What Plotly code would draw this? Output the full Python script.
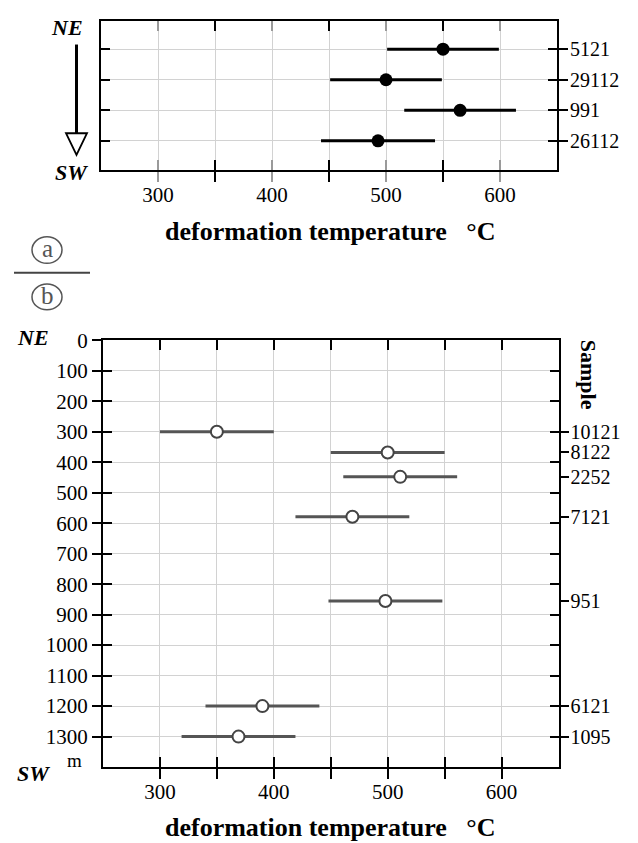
import plotly.graph_objects as go

W, H = 638, 843

# ---- data ----
samples_a = ["5121", "29112", "991", "26112"]
rows_a = [1, 2, 3, 4]
temp_a = [550, 500, 565, 493]
err_a = [49, 49, 49, 50]

samples_b = ["10121", "8122", "2252", "7121", "951", "6121", "1095"]
depth_b = [300, 368, 448, 579, 855, 1200, 1300]
temp_b = [350, 500, 511, 469, 498, 390, 369]
err_b = [50, 50, 50, 50, 50, 50, 50]

x_major = [300, 400, 500, 600]
x_major_text = ["300", "400", "500", "600"]
x_minor = [350, 450, 550]
depth_ticks = list(range(0, 1400, 100))

FONT = "Liberation Serif"
GRID = "#d2d2d2"

def px(x):
    return x / W

def py(y):
    return 1 - y / H

fig = go.Figure()

fig.add_trace(go.Scatter(
    x=temp_a, y=rows_a, xaxis="x", yaxis="y", mode="markers",
    marker=dict(size=13, color="black"),
    error_x=dict(type="data", array=err_a, thickness=3, width=0, color="black"),
    showlegend=False, hoverinfo="skip"))

fig.add_trace(go.Scatter(
    x=temp_b, y=depth_b, xaxis="x2", yaxis="y2", mode="markers",
    marker=dict(size=12, color="white", line=dict(color="#444444", width=2)),
    error_x=dict(type="data", array=err_b, thickness=3, width=0, color="#555555"),
    showlegend=False, hoverinfo="skip"))

# invisible traces so that overlay axes (extra tick sets) are drawn
for xa, ya in [("x3", "y3"), ("x4", "y4"), ("x2", "y5")]:
    fig.add_trace(go.Scatter(x=[None], y=[None], xaxis=xa, yaxis=ya, mode="markers",
                             showlegend=False, hoverinfo="skip"))

tickfont = dict(family=FONT, size=21, color="black")
rightfont = dict(family=FONT, size=20, color="black")
dom_a_x = [px(101), px(557)]
dom_a_y = [py(160), py(9.5)]
dom_b_x = [px(103), px(558.5)]
dom_b_y = [py(766), py(333)]

def xmain(domain, anchor, major_color):
    return dict(domain=domain, anchor=anchor, range=[250, 650], fixedrange=True,
                tickmode="array", tickvals=x_major, ticktext=x_major_text,
                ticks="outside", ticklen=10, tickwidth=1.5, tickcolor=major_color,
                minor=dict(tickmode="array", tickvals=x_minor, ticks="outside", ticklen=10,
                           tickwidth=1.5, tickcolor="black", showgrid=True,
                           gridcolor=GRID, gridwidth=1),
                showgrid=True, gridcolor=GRID, gridwidth=1,
                showline=True, linecolor="black", linewidth=2, mirror=True,
                zeroline=False, tickfont=tickfont, ticklabelstandoff=-5)

def xin(over, anchor, major_color):
    return dict(overlaying=over, anchor=anchor, range=[250, 650], fixedrange=True,
                tickmode="array", tickvals=x_major, ticks="inside", ticklen=10,
                tickwidth=1.5, tickcolor=major_color,
                minor=dict(tickmode="array", tickvals=x_minor, ticks="inside", ticklen=10,
                           tickwidth=1.5, tickcolor="black", showgrid=False),
                showticklabels=False, showgrid=False, showline=False,
                mirror="ticks", zeroline=False)

fig.update_layout(
    width=W, height=H, margin=dict(l=0, r=0, t=0, b=0),
    paper_bgcolor="white", plot_bgcolor="white",
    font=dict(family=FONT),
    xaxis=xmain(dom_a_x, "y", "#9a9a9a"),
    xaxis3=xin("x", "y3", "#9a9a9a"),
    xaxis2=xmain(dom_b_x, "y2", "black"),
    xaxis4=xin("x2", "y4", "black"),
    yaxis=dict(domain=dom_a_y, anchor="x", side="right", range=[4.945, 0.09],
               fixedrange=True, tickmode="array", tickvals=rows_a, ticktext=samples_a,
               ticks="outside", ticklen=9, tickwidth=1.5, tickcolor="black",
               showgrid=True, gridcolor=GRID, gridwidth=1,
               showline=True, linecolor="black", linewidth=2, mirror=True,
               zeroline=False, tickfont=rightfont, ticklabelstandoff=-2),
    yaxis3=dict(overlaying="y", anchor="x3", side="right", range=[4.945, 0.09],
                fixedrange=True, tickmode="array", tickvals=rows_a,
                ticks="inside", ticklen=9, tickwidth=1.5, tickcolor="black",
                showticklabels=False, showgrid=False, showline=False,
                mirror="ticks", zeroline=False),
    yaxis2=dict(domain=dom_b_y, anchor="x2", side="left", range=[1400, 0],
                fixedrange=True, tickmode="array", tickvals=depth_ticks,
                ticks="outside", ticklen=9, tickwidth=1.5, tickcolor="black",
                showgrid=True, gridcolor=GRID, gridwidth=1,
                showline=True, linecolor="black", linewidth=2, mirror=True,
                zeroline=False, tickfont=tickfont, ticklabelstandoff=0),
    yaxis4=dict(overlaying="y2", anchor="x4", side="left", range=[1400, 0],
                fixedrange=True, tickmode="array", tickvals=depth_ticks[1:],
                ticks="inside", ticklen=9, tickwidth=1.5, tickcolor="black",
                showticklabels=False, showgrid=False, showline=False,
                mirror="ticks", zeroline=False),
    yaxis5=dict(overlaying="y2", anchor="x2", side="right", range=[1400, 0],
                fixedrange=True, tickmode="array", tickvals=depth_b, ticktext=samples_b,
                ticks="outside", ticklen=9, tickwidth=1.5, tickcolor="black",
                showgrid=False, showline=False, zeroline=False,
                tickfont=rightfont, ticklabelstandoff=-2),
)

title_txt = "<b>deformation temperature\u00a0\u00a0\u00a0°C</b>"
ann = []
def add_text(x, y, text, size, angle=0, color="black"):
    ann.append(dict(xref="paper", yref="paper", x=px(x), y=py(y), text=text,
                    showarrow=False, xanchor="center", yanchor="middle", borderpad=0,
                    textangle=angle, font=dict(family=FONT, size=size, color=color)))

add_text(330, 223, title_txt, 26)
add_text(330, 827, title_txt, 26)
add_text(67, 16, "<b><i>NE</i></b>", 22)
add_text(71, 163, "<b><i>SW</i></b>", 22)
add_text(33, 330, "<b><i>NE</i></b>", 22)
add_text(33, 772, "<b><i>SW</i></b>", 22)
add_text(74, 759, "m", 19)
add_text(588, 368, "<b>Sample</b>", 22, angle=90)
add_text(47, 240, "a", 25, color="#555555")
add_text(47, 288, "b", 25, color="#555555")

shapes = [
    # circled labels and divider
    dict(type="circle", xref="paper", yref="paper", x0=px(32), x1=px(62), y0=py(228), y1=py(255),
         line=dict(color="#555555", width=1.5)),
    dict(type="circle", xref="paper", yref="paper", x0=px(32), x1=px(62), y0=py(276), y1=py(302),
         line=dict(color="#555555", width=1.5)),
    dict(type="line", xref="paper", yref="paper", x0=px(14), x1=px(90), y0=py(264.5), y1=py(264.5),
         line=dict(color="#444444", width=2)),
    # direction arrow
    dict(type="line", xref="paper", yref="paper", x0=px(76.5), x1=px(76.5), y0=py(33), y1=py(123),
         line=dict(color="black", width=3)),
    dict(type="path", xref="paper", yref="paper",
         path=f"M {px(66)} {py(123)} L {px(87)} {py(123)} L {px(76.5)} {py(145)} Z",
         line=dict(color="black", width=1.8), fillcolor="white"),
]

fig.update_layout(annotations=ann, shapes=shapes)
fig.write_html("out.html",
               post_script="document.body.style.margin='0';document.body.style.overflow='hidden';")
